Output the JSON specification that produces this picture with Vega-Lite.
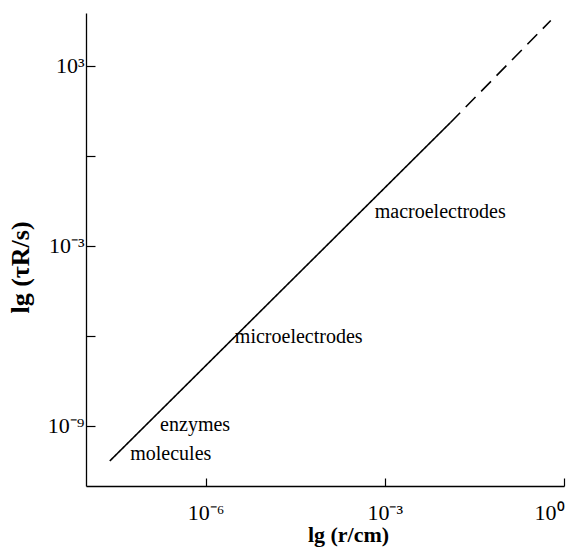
{
  "$schema": "https://vega.github.io/schema/vega-lite/v6.json",
  "width": 478,
  "height": 473,
  "autosize": "none",
  "padding": {"left": 86, "top": 13, "right": 17, "bottom": 63},
  "background": "white",
  "config": {
    "view": {"stroke": null},
    "axis": {
      "domainColor": "black",
      "domainWidth": 1.3,
      "tickColor": "black",
      "tickWidth": 1.2,
      "grid": false,
      "labelFont": "Liberation Serif",
      "labelFontSize": 22,
      "labelColor": "black",
      "titleFont": "Liberation Serif",
      "titleColor": "black",
      "titleFontWeight": "bold"
    }
  },
  "datasets": {
    "curve": [
      {"r": 2.5e-8, "tau": 6.8e-11, "seg": "solid"},
      {"r": 0.0125, "tau": 12.5, "seg": "solid"},
      {"r": 0.0125, "tau": 12.5, "seg": "dashed"},
      {"r": 0.60, "tau": 31600, "seg": "dashed"}
    ],
    "labels": [
      {"r": 6.8e-4, "tau": 8.5e-3, "label": "macroelectrodes"},
      {"r": 3.1e-6, "tau": 5.9e-7, "label": "microelectrodes"},
      {"r": 1.74e-7, "tau": 6.8e-10, "label": "enzymes"},
      {"r": 5.5e-8, "tau": 7.4e-11, "label": "molecules"}
    ]
  },
  "layer": [
    {
      "data": {"name": "curve"},
      "mark": {"type": "line", "color": "black", "strokeWidth": 1.6, "clip": false},
      "encoding": {
        "x": {
          "field": "r", "type": "quantitative",
          "scale": {"type": "log", "domain": [1e-8, 1], "nice": false},
          "axis": {
            "title": "lg (r/cm)",
            "titleFontSize": 22,
            "titleX": 262,
            "values": [1e-6, 1e-3, 1],
            "labelExpr": "{'-6': '10⁻⁶', '-3': '10⁻³', '0': '10⁰'}[round(log(datum.value) / LN10) + '']",
            "tickSize": -8,
            "labelPadding": 24,
            "titlePadding": 1
          }
        },
        "y": {
          "field": "tau", "type": "quantitative",
          "scale": {"type": "log", "domain": [1e-11, 56234], "nice": false},
          "axis": {
            "title": "lg (τR/s)",
            "titleFontSize": 26,
            "titleY": 254,
            "values": [1e-9, 1e-6, 1e-3, 1, 1000],
            "labelExpr": "{'-9': '10⁻⁹', '-3': '10⁻³', '3': '10³'}[round(log(datum.value) / LN10) + ''] || ''",
            "tickSize": -9,
            "labelPadding": 11,
            "titlePadding": 14
          }
        },
        "strokeDash": {
          "field": "seg", "type": "nominal",
          "scale": {"domain": ["solid", "dashed"], "range": [[1, 0], [14, 8]]},
          "legend": null
        },
        "detail": {"field": "seg"}
      }
    },
    {
      "data": {"name": "labels"},
      "mark": {"type": "text", "align": "left", "baseline": "alphabetic", "font": "Liberation Serif", "fontSize": 20, "color": "black"},
      "encoding": {
        "x": {"field": "r", "type": "quantitative", "scale": {"type": "log"}},
        "y": {"field": "tau", "type": "quantitative", "scale": {"type": "log"}},
        "text": {"field": "label"}
      }
    }
  ]
}
